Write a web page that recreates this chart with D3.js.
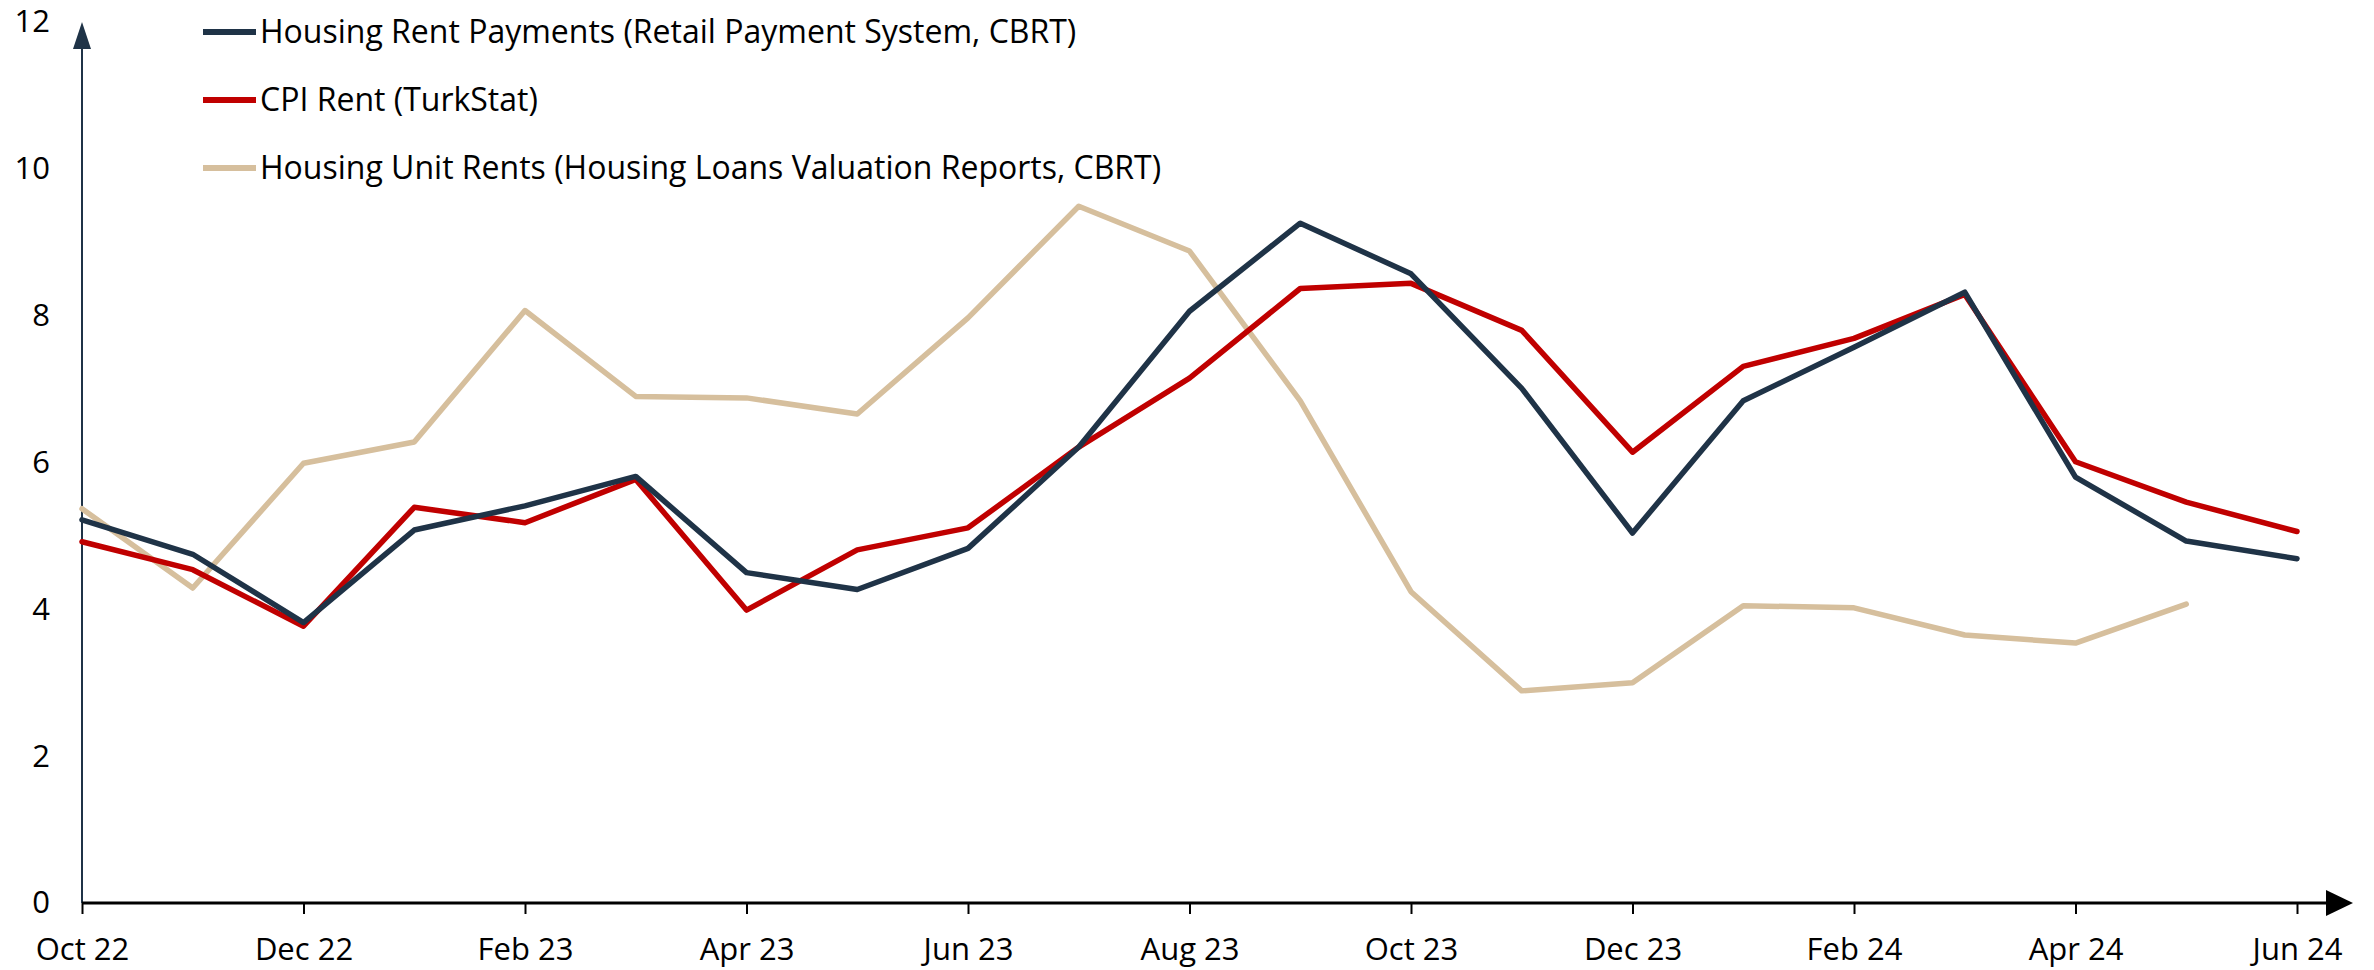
<!DOCTYPE html>
<html>
<head>
<meta charset="utf-8">
<script src="https://cdn.jsdelivr.net/npm/d3@7"></script>
<style>
  html, body { margin: 0; padding: 0; background: #fff; }
  svg { display: block; font-family: "Open Sans", sans-serif; }
</style>
</head>
<body>
<svg id="chart" width="2374" height="970"></svg>
<script>
// Monthly values, Oct 22 .. Jun 24
var months = ["Oct 22","Nov 22","Dec 22","Jan 23","Feb 23","Mar 23","Apr 23","May 23","Jun 23","Jul 23","Aug 23",
  "Sep 23","Oct 23","Nov 23","Dec 23","Jan 24","Feb 24","Mar 24","Apr 24","May 24","Jun 24"]

var rentPayments = [5.22, 4.75, 3.82, 5.08, 5.41, 5.81, 4.50, 4.27, 4.83, 6.21, 8.06,
  9.26, 8.57, 7.01, 5.04, 6.84, 7.57, 8.32, 5.80, 4.93, 4.69]
var cpiRent = [4.92, 4.54, 3.77, 5.39, 5.18, 5.77, 3.99, 4.81, 5.11, 6.21, 7.15,
  8.37, 8.44, 7.80, 6.14, 7.31, 7.69, 8.29, 6.01, 5.46, 5.06]
var unitRents = [5.37, 4.29, 5.99, 6.28, 8.07, 6.90, 6.88, 6.66, 7.97, 9.49, 8.88,
  6.84, 4.24, 2.89, 3.00, 4.05, 4.02, 3.65, 3.54, 4.07, null]

var seriesNames = ["Housing Rent Payments (Retail Payment System, CBRT)", "CPI Rent (TurkStat)",
  "Housing Unit Rents (Housing Loans Valuation Reports, CBRT)"]
var seriesColors = ["#1f3347", "#c00000", "#d6bf9d"]
var yTicks = [0, 2, 4, 6, 8, 10, 12]
var xTickLabels = months.filter((m, i) => i % 2 == 0)

var svg = d3.select("#chart")
var axisColor = "#1f3347"

// Scales
var x = d3.scalePoint().domain(months).range([82, 2297])
var y = d3.scaleLinear().domain([0, 12]).range([903, 22])

// y axis (no ticks, labels only)
var yAxis = svg.append("g")
  .attr("transform", "translate(82,0)")
  .call(d3.axisLeft(y).tickValues(yTicks).tickSize(0).tickPadding(32).tickFormat(d3.format("d")))
yAxis.select(".domain").remove()
yAxis.selectAll("text").attr("font-size", 31).attr("fill", "#000").attr("font-family", "Open Sans")

svg.append("line")
  .attr("x1", 82).attr("x2", 82)
  .attr("y1", y(0)).attr("y2", y(12) + 20)
  .attr("stroke", axisColor).attr("stroke-width", 2)
svg.append("path")
  .attr("d", "M" + 82 + "," + y(12) + " L" + 73 + "," + (y(12) + 27) + " L" + 91 + "," + (y(12) + 27) + " Z")
  .attr("fill", axisColor)

// x axis with arrow
var xAxis = svg.append("g")
  .attr("transform", "translate(0," + y(0) + ")")
  .call(d3.axisBottom(x).tickValues(xTickLabels).tickSize(11).tickSizeOuter(0).tickPadding(24))
xAxis.select(".domain").remove()
xAxis.selectAll(".tick line").attr("stroke", "#000").attr("stroke-width", 2)
xAxis.selectAll("text").attr("font-size", 31).attr("fill", "#000").attr("font-family", "Open Sans")

svg.append("line")
  .attr("x1", 82).attr("x2", 2330)
  .attr("y1", y(0)).attr("y2", y(0))
  .attr("stroke", "#000").attr("stroke-width", 3)
svg.append("path")
  .attr("d", "M2353," + y(0) + " L2326," + (y(0) - 13) + " L2326," + (y(0) + 13) + " Z")
  .attr("fill", "#000")

// Lines
var line = d3.line()
  .defined(d => d.v != null)
  .x(d => x(d.m))
  .y(d => y(d.v))

var allSeries = [rentPayments, cpiRent, unitRents]
// draw tan first so the others sit on top
;[2, 1, 0].forEach(k => {
  var pts = months.map((m, i) => ({m: m, v: allSeries[k][i]}))
  svg.append("path")
    .datum(pts)
    .attr("d", line)
    .attr("fill", "none")
    .attr("stroke", seriesColors[k])
    .attr("stroke-width", 5.5)
    .attr("stroke-linejoin", "round")
    .attr("stroke-linecap", "round")
})

// Legend
var legend = svg.append("g")
seriesNames.forEach((name, i) => {
  var ly = 32 + i * 68
  legend.append("line")
    .attr("x1", 203).attr("x2", 256)
    .attr("y1", ly).attr("y2", ly)
    .attr("stroke", seriesColors[i]).attr("stroke-width", 6)
  legend.append("text")
    .attr("x", 260).attr("y", ly)
    .attr("dy", "0.35em")
    .attr("font-size", 32)
    .attr("fill", "#000")
    .text(name)
})
</script>
</body>
</html>
